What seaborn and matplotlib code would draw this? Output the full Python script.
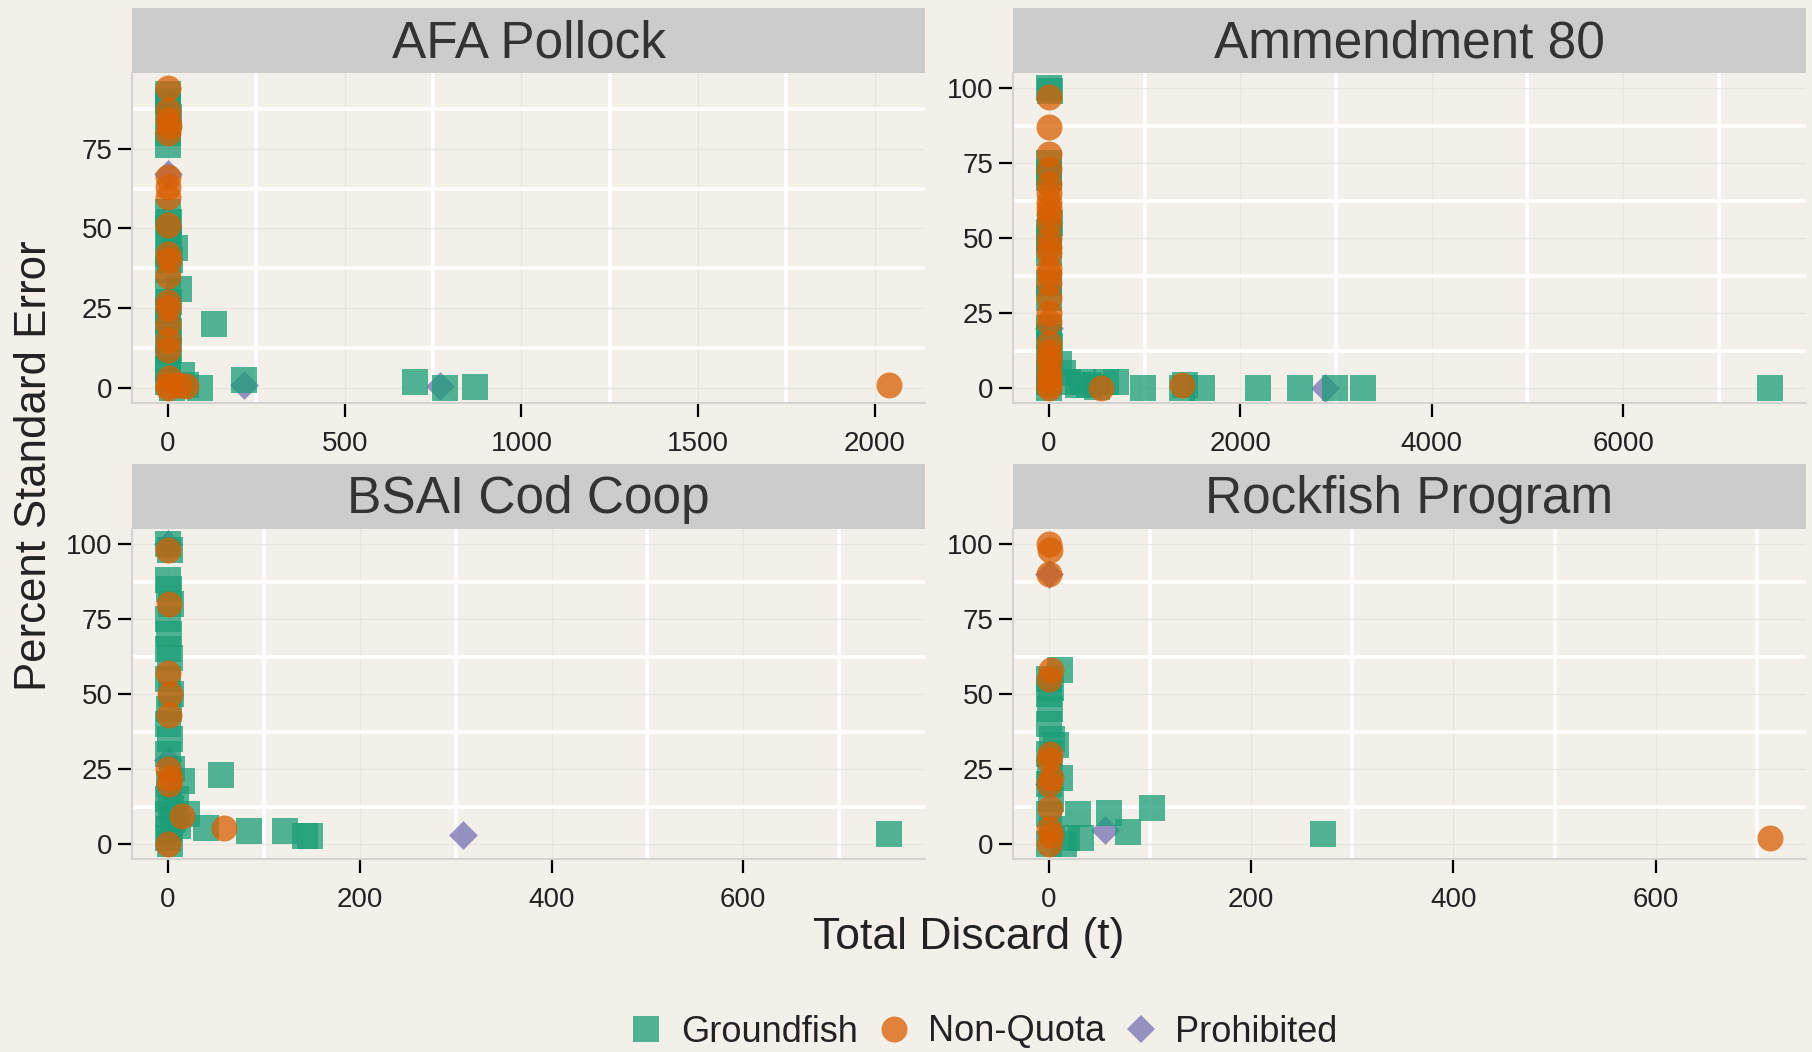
import pandas as pd
import seaborn as sns
import matplotlib.pyplot as plt
from matplotlib.lines import Line2D
from matplotlib.ticker import MultipleLocator, AutoMinorLocator

# programs (facets) and discard types
programs = ["AFA Pollock", "Ammendment 80", "BSAI Cod Coop", "Rockfish Program"]
types = ["Groundfish", "Non-Quota", "Prohibited"]

# (total discard t, percent standard error)
afa_groundfish = [(0, 92), (1, 90), (0, 88), (2, 85), (0, 80), (1, 76), (0, 55), (3, 52), (1, 50),
                  (2, 47), (20, 44), (0, 42), (5, 40), (1, 37), (30, 31), (0, 30), (2, 27), (0, 24),
                  (1, 21), (3, 18), (0, 15), (2, 12), (0, 9), (1, 6), (40, 4), (0, 2), (90, 0),
                  (130, 20), (215, 2.5), (700, 2), (785, 0), (870, 0.3), (50, 1), (10, 0)]
afa_nonquota = [(0, 94), (1, 87), (0, 84), (2, 82), (0, 80), (1, 66), (0, 63), (0, 60), (1, 51),
                (0, 42), (2, 40), (0, 35), (1, 27), (0, 25), (0, 20), (1, 15), (0, 12), (2, 3),
                (0, 1), (0, 0), (30, 1), (50, 0.5), (2040, 1)]
afa_prohibited = [(0, 67), (215, 1), (770, 0.5)]

a80_groundfish = [(0, 100), (5, 99), (0, 75), (3, 72), (0, 70), (5, 55), (0, 52), (2, 50), (0, 45),
                  (3, 35), (0, 30), (2, 20), (0, 17), (5, 14), (0, 10), (2, 5), (0, 0), (3, 2),
                  (100, 8), (150, 5), (200, 2), (300, 1), (350, 2), (420, 1), (500, 0.5), (600, 2),
                  (700, 2), (980, 0), (1390, 0), (1420, 1), (1595, 0), (2180, 0), (2620, 0),
                  (2990, 0), (3285, 0), (7535, 0)]
a80_nonquota = [(0, 97), (1, 87), (0, 78), (2, 73), (0, 68), (1, 65), (0, 62), (2, 60), (0, 58),
                (1, 55), (0, 50), (2, 47), (0, 45), (1, 40), (0, 38), (2, 35), (0, 30), (1, 25),
                (0, 22), (2, 15), (0, 12), (1, 10), (0, 8), (2, 5), (0, 3), (1, 1), (0, 0),
                (540, 0), (1390, 1)]
a80_prohibited = [(0, 20), (2885, 0)]

cod_groundfish = [(0, 100), (2, 98), (0, 88), (1, 85), (3, 80), (0, 75), (1, 70), (0, 65), (2, 62),
                  (0, 55), (3, 50), (1, 45), (0, 40), (2, 35), (0, 30), (4, 25), (1, 20), (0, 15),
                  (3, 12), (0, 10), (5, 8), (1, 5), (0, 2), (2, 0), (15, 21), (20, 10), (55, 23),
                  (40, 5.5), (84, 4.3), (122, 4.3), (143, 2.6), (148, 2.8), (752, 3.3), (8, 15),
                  (10, 6)]
cod_nonquota = [(0, 98), (1, 80), (0, 57), (2, 50), (1, 43), (0, 25), (2, 22), (1, 20), (0, 0),
                (15, 9.3), (58, 5.3)]
cod_prohibited = [(0, 100), (0, 28), (308, 3)]

rock_groundfish = [(0, 55), (2, 52), (0, 50), (1, 45), (0, 40), (3, 35), (0, 30), (1, 25), (0, 20),
                   (2, 15), (0, 10), (3, 5), (0, 0), (11, 58), (7, 33), (11, 22), (15, 0), (29, 10),
                   (32, 2), (59, 10.5), (78, 4), (102, 12), (271, 3.3), (18, 2)]
rock_nonquota = [(0, 100), (1, 98), (0, 90), (2, 58), (0, 55), (1, 30), (0, 28), (2, 22), (0, 20),
                 (1, 12), (0, 5), (2, 3), (0, 0), (713, 2)]
rock_prohibited = [(55, 4.6), (0, 90), (0, 20)]

x_steps = [500, 2000, 200, 200]

groups = [
    [afa_groundfish, afa_nonquota, afa_prohibited],
    [a80_groundfish, a80_nonquota, a80_prohibited],
    [cod_groundfish, cod_nonquota, cod_prohibited],
    [rock_groundfish, rock_nonquota, rock_prohibited],
]
rows = []
for prog, grp in zip(programs, groups):
    for typ, pts in zip(types, grp):
        for x, y in pts:
            rows.append((prog, typ, x, y))
df = pd.DataFrame(rows, columns=["program", "type", "discard", "pse"])

bg = "#F2F0E8"
palette = dict(zip(types, ["#1B9E77", "#D95F02", "#7570B3"]))
markers = {"Groundfish": "s", "Non-Quota": "o", "Prohibited": "D"}
sizes = {"Groundfish": 350, "Non-Quota": 350, "Prohibited": 215}
draw_order = ["Prohibited", "Groundfish", "Non-Quota"]

sns.set_theme(style="white")
plt.rcParams['font.family'] = ['Liberation Sans', 'DejaVu Sans']

W, H = 1812, 1052
fig = plt.figure(figsize=(W / 100, H / 100), dpi=100, facecolor=bg)


def box(x0, y0, x1, y1):
    return [x0 / W, 1 - y1 / H, (x1 - x0) / W, (y1 - y0) / H]


panel_px = [(132, 73, 925, 403), (1013, 73, 1806, 403),
            (132, 529, 925, 859), (1013, 529, 1806, 859)]

for prog, step, (x0, y0, x1, y1) in zip(programs, x_steps, panel_px):
    ax = fig.add_axes(box(x0, y0, x1, y1))
    ax.set_facecolor(bg)
    sub = df[df["program"] == prog]
    for typ in draw_order:
        d = sub[sub["type"] == typ]
        sns.scatterplot(data=d, x="discard", y="pse", color=palette[typ], marker=markers[typ],
                        s=sizes[typ], alpha=0.75, linewidth=0, ax=ax, legend=False)
    ax.margins(0.05)
    ax.xaxis.set_major_locator(MultipleLocator(step))
    ax.yaxis.set_major_locator(MultipleLocator(25))
    ax.xaxis.set_minor_locator(AutoMinorLocator(2))
    ax.yaxis.set_minor_locator(AutoMinorLocator(2))
    ax.set_axisbelow(True)
    ax.grid(which="major", color="#E7E5DD", lw=0.9)
    ax.grid(which="minor", color="white", lw=2.6)
    ax.tick_params(which="major", length=10, width=1.6, color="black", labelsize=20,
                   labelcolor="#222222", bottom=True, left=True)
    ax.tick_params(axis="x", pad=10)
    ax.tick_params(axis="y", pad=4)
    ax.tick_params(which="minor", length=0)
    ax.set_xlabel("")
    ax.set_ylabel("")
    for side in ["top", "right"]:
        ax.spines[side].set_visible(False)
    for side in ["bottom", "left"]:
        ax.spines[side].set_color("#D3D3D3")
        ax.spines[side].set_linewidth(1.5)

    # facet strip
    sax = fig.add_axes(box(x0, y0 - 65, x1, y0))
    sax.set_facecolor("#CCCCCC")
    sax.set_xticks([])
    sax.set_yticks([])
    for s in sax.spines.values():
        s.set_visible(False)
    sax.text(0.5, 0.45, prog, ha="center", va="center", fontsize=37, color="#333333",
             transform=sax.transAxes)

fig.text(969 / W, 1 - 937 / H, "Total Discard (t)", ha="center", va="center",
         fontsize=32, color="#222222")
fig.text(35 / W, 1 - 466 / H, "Percent Standard Error", ha="center", va="center",
         rotation=90, fontsize=31.5, color="#222222")

handles = [Line2D([], [], linestyle="none", marker=markers[t], color=palette[t], alpha=0.75,
                  markeredgewidth=0, markersize=18.7 if t != "Prohibited" else 14.7)
           for t in types]
fig.legend(handles, types, loc="center", bbox_to_anchor=(983 / W, 1 - 1032 / H), ncol=3,
           frameon=False, fontsize=26, handlelength=1.0, handletextpad=0.45,
           columnspacing=0.5, labelcolor="#222222")

fig.savefig("out.png", dpi=100, facecolor=bg)
